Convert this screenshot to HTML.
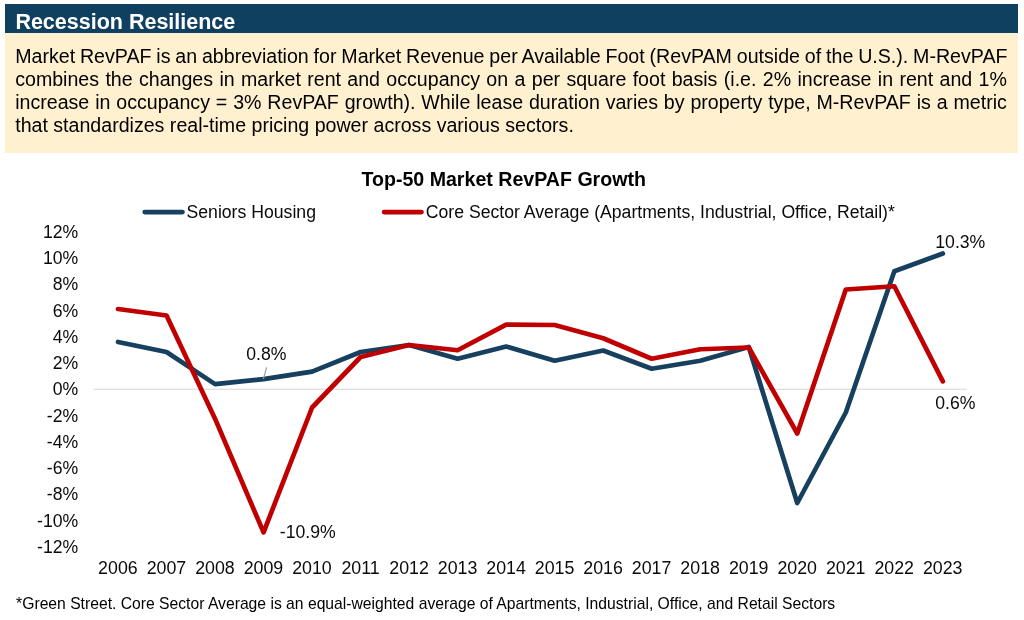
<!DOCTYPE html>
<html><head><meta charset="utf-8"><title>Recession Resilience</title>
<style>
html,body{margin:0;padding:0;background:#fff;}
body{width:1024px;height:620px;position:relative;overflow:hidden;font-family:"Liberation Sans",Arial,sans-serif;color:#000;}
.hdr{position:absolute;left:5px;top:4px;width:1013px;height:29px;background:#10405f;}
.hdr span{position:absolute;left:10.4px;top:3.6px;font-weight:bold;font-size:21.5px;line-height:29px;color:#fff;white-space:nowrap;}
.box{position:absolute;left:5px;top:33px;width:1013px;height:119.5px;background:#fff0cf;}
.box i{position:absolute;left:0;top:119px;width:9px;height:1px;background:#fff0cf;display:block;}
.ln{position:absolute;left:15.2px;font-size:19.6px;line-height:22px;height:22px;white-space:nowrap;color:#000;}
svg{position:absolute;left:0;top:0;}
svg text{font-family:"Liberation Sans",Arial,sans-serif;fill:#0a0a0a;font-size:17.65px;}
.foot{position:absolute;left:16.1px;top:595px;font-size:15.7px;line-height:18px;white-space:nowrap;color:#000;}
</style></head><body>
<div class="hdr"><span>Recession Resilience</span></div>
<div class="box"><i></i></div>
<div class="ln" style="top:45.2px;word-spacing:-0.578px">Market RevPAF is an abbreviation for Market Revenue per Available Foot (RevPAM outside of the U.S.). M-RevPAF</div>
<div class="ln" style="top:68.2px;word-spacing:0.899px">combines the changes in market rent and occupancy on a per square foot basis (i.e. 2% increase in rent and 1%</div>
<div class="ln" style="top:91.2px;word-spacing:0.437px">increase in occupancy = 3% RevPAF growth). While lease duration varies by property type, M-RevPAF is a metric</div>
<div class="ln" style="top:114.2px">that standardizes real-time pricing power across various sectors.</div>
<svg width="1024" height="620" viewBox="0 0 1024 620">
<line x1="93.5" y1="389.25" x2="966.5" y2="389.25" stroke="#d4d4d4" stroke-width="1.2"/>
<text x="503.7" y="185.8" text-anchor="middle" style="font-size:19.6px;font-weight:bold;fill:#000">Top-50 Market RevPAF Growth</text>
<line x1="144.7" y1="212.1" x2="182.5" y2="212.1" stroke="#17405f" stroke-width="4.7" stroke-linecap="round"/>
<text x="186.5" y="218.1">Seniors Housing</text>
<line x1="384.1" y1="212.1" x2="421.5" y2="212.1" stroke="#c00000" stroke-width="4.7" stroke-linecap="round"/>
<text x="425.8" y="218.1">Core Sector Average (Apartments, Industrial, Office, Retail)*</text>
<text transform="translate(78.20 237.87) scale(1 1.03)" text-anchor="end">12%</text>
<text transform="translate(78.20 264.13) scale(1 1.03)" text-anchor="end">10%</text>
<text transform="translate(78.20 290.38) scale(1 1.03)" text-anchor="end">8%</text>
<text transform="translate(78.20 316.64) scale(1 1.03)" text-anchor="end">6%</text>
<text transform="translate(78.20 342.89) scale(1 1.03)" text-anchor="end">4%</text>
<text transform="translate(78.20 369.15) scale(1 1.03)" text-anchor="end">2%</text>
<text transform="translate(78.20 395.41) scale(1 1.03)" text-anchor="end">0%</text>
<text transform="translate(78.20 421.66) scale(1 1.03)" text-anchor="end">-2%</text>
<text transform="translate(78.20 447.92) scale(1 1.03)" text-anchor="end">-4%</text>
<text transform="translate(78.20 474.17) scale(1 1.03)" text-anchor="end">-6%</text>
<text transform="translate(78.20 500.43) scale(1 1.03)" text-anchor="end">-8%</text>
<text transform="translate(78.20 526.69) scale(1 1.03)" text-anchor="end">-10%</text>
<text transform="translate(78.20 552.94) scale(1 1.03)" text-anchor="end">-12%</text>
<text transform="translate(117.90 573.60) scale(1 1.03)" text-anchor="middle" style="font-size:17.8px">2006</text>
<text transform="translate(166.42 573.60) scale(1 1.03)" text-anchor="middle" style="font-size:17.8px">2007</text>
<text transform="translate(214.94 573.60) scale(1 1.03)" text-anchor="middle" style="font-size:17.8px">2008</text>
<text transform="translate(263.46 573.60) scale(1 1.03)" text-anchor="middle" style="font-size:17.8px">2009</text>
<text transform="translate(311.98 573.60) scale(1 1.03)" text-anchor="middle" style="font-size:17.8px">2010</text>
<text transform="translate(360.50 573.60) scale(1 1.03)" text-anchor="middle" style="font-size:17.8px">2011</text>
<text transform="translate(409.02 573.60) scale(1 1.03)" text-anchor="middle" style="font-size:17.8px">2012</text>
<text transform="translate(457.54 573.60) scale(1 1.03)" text-anchor="middle" style="font-size:17.8px">2013</text>
<text transform="translate(506.06 573.60) scale(1 1.03)" text-anchor="middle" style="font-size:17.8px">2014</text>
<text transform="translate(554.58 573.60) scale(1 1.03)" text-anchor="middle" style="font-size:17.8px">2015</text>
<text transform="translate(603.10 573.60) scale(1 1.03)" text-anchor="middle" style="font-size:17.8px">2016</text>
<text transform="translate(651.62 573.60) scale(1 1.03)" text-anchor="middle" style="font-size:17.8px">2017</text>
<text transform="translate(700.14 573.60) scale(1 1.03)" text-anchor="middle" style="font-size:17.8px">2018</text>
<text transform="translate(748.66 573.60) scale(1 1.03)" text-anchor="middle" style="font-size:17.8px">2019</text>
<text transform="translate(797.18 573.60) scale(1 1.03)" text-anchor="middle" style="font-size:17.8px">2020</text>
<text transform="translate(845.70 573.60) scale(1 1.03)" text-anchor="middle" style="font-size:17.8px">2021</text>
<text transform="translate(894.22 573.60) scale(1 1.03)" text-anchor="middle" style="font-size:17.8px">2022</text>
<text transform="translate(942.74 573.60) scale(1 1.03)" text-anchor="middle" style="font-size:17.8px">2023</text>
<polyline points="118.00,342.00 166.52,352.00 215.04,384.10 263.56,379.10 312.08,371.60 360.60,352.00 409.12,345.00 457.64,358.75 506.16,346.50 554.68,360.75 603.20,350.50 651.72,368.75 700.24,360.75 748.76,347.00 797.28,503.00 845.80,412.50 894.32,271.25 942.84,253.50" fill="none" stroke="#17405f" stroke-width="4.7" stroke-linecap="round" stroke-linejoin="round"/>
<polyline points="118.00,309.00 166.52,315.50 215.04,418.70 263.56,532.40 312.08,407.50 360.60,357.00 409.12,345.00 457.64,350.25 506.16,324.60 554.68,325.00 603.20,338.25 651.72,358.75 700.24,349.25 748.76,347.50 797.28,433.50 845.80,289.50 894.32,286.25 942.84,381.40" fill="none" stroke="#c00000" stroke-width="4.7" stroke-linecap="round" stroke-linejoin="round"/>
<line x1="266.6" y1="367.3" x2="263.4" y2="378.8" stroke="#9c9c9c" stroke-width="1.2"/>
<text transform="translate(266.40 360.10) scale(1 1.03)" text-anchor="middle">0.8%</text>

<text transform="translate(960.30 247.80) scale(1 1.03)" text-anchor="middle">10.3%</text>

<text transform="translate(955.30 408.50) scale(1 1.03)" text-anchor="middle">0.6%</text>

<text transform="translate(307.80 538.00) scale(1 1.03)" text-anchor="middle">-10.9%</text>

</svg>
<div class="foot">*Green Street. Core Sector Average is an equal-weighted average of Apartments, Industrial, Office, and Retail Sectors</div>
</body></html>
